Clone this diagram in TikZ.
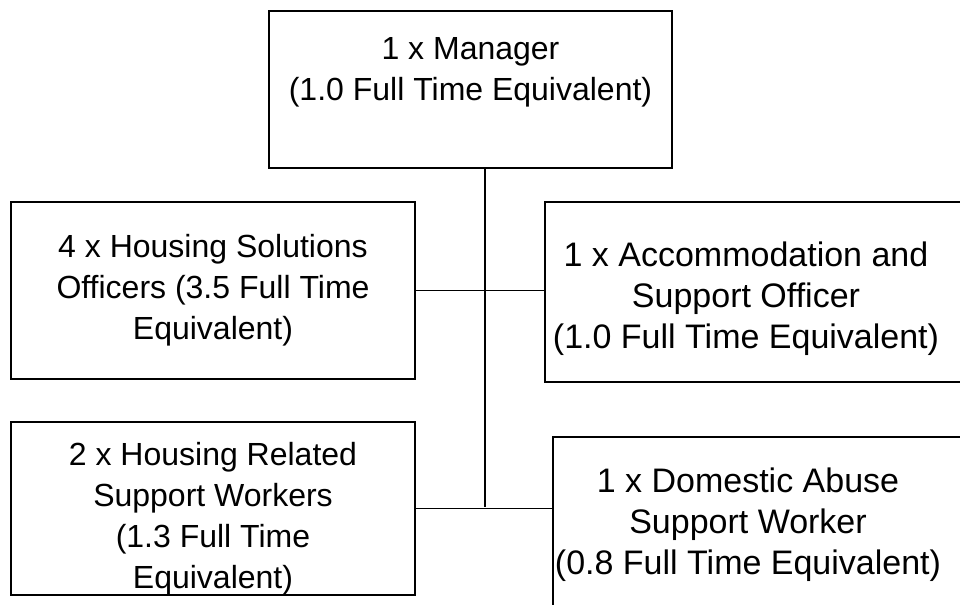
\documentclass[tikz,border=0pt]{standalone}
\usepackage{fontspec}
\setmainfont{Liberation Sans}

\begin{document}
\begin{tikzpicture}[x=0.5pt,y=-0.5pt,
  post/.style={draw,line width=0.9pt,align=center,inner sep=0pt,
    font=\fontsize{16pt}{20.5pt}\selectfont},
  postopen/.style={post,draw=none,font=\fontsize{17pt}{20.5pt}\selectfont},
  frame/.style={line width=0.9pt},
  link/.style={line width=0.6pt}]
\useasboundingbox (0,0) rectangle (960,605);
\node[post,minimum width=201.5pt,minimum height=78.5pt] (mgr) at (470.5,89.5)
  {1 x Manager\\(1.0 Full Time Equivalent)\\\mbox{}};
\node[post,minimum width=202pt,minimum height=88.5pt] (hso) at (213,290.5)
  {4 x Housing Solutions\\Officers (3.5 Full Time\\Equivalent)};
\node[postopen,minimum width=200pt,minimum height=89pt] (aso) at (746,292)
  {\rule{0pt}{19.5pt}1 x Accommodation and\\Support Officer\\(1.0 Full Time Equivalent)};
\node[post,minimum width=202pt,minimum height=85.5pt] (hrsw) at (213,508.5)
  {\rule{0pt}{21.5pt}2 x Housing Related\\Support Workers\\(1.3 Full Time\\Equivalent)};
\node[postopen,minimum width=194pt,minimum height=87pt] (dasw) at (748,525)
  {1 x Domestic Abuse\\Support Worker\\(0.8 Full Time Equivalent)};
\draw[frame] ([xshift=20pt]aso.north east) -- (aso.north west) -- (aso.south west) -- ([xshift=20pt]aso.south east);
\draw[frame] ([xshift=20pt]dasw.north east) -- (dasw.north west) -- (dasw.south west);
\coordinate (trunk) at (485,507);
\draw[link] (mgr.south -| trunk) -- (trunk);
\draw[link] (hso.east) -- (hso.east -| aso.west);
\draw[link] (hrsw.east) -- (hrsw.east -| dasw.west);
\end{tikzpicture}
\end{document}
